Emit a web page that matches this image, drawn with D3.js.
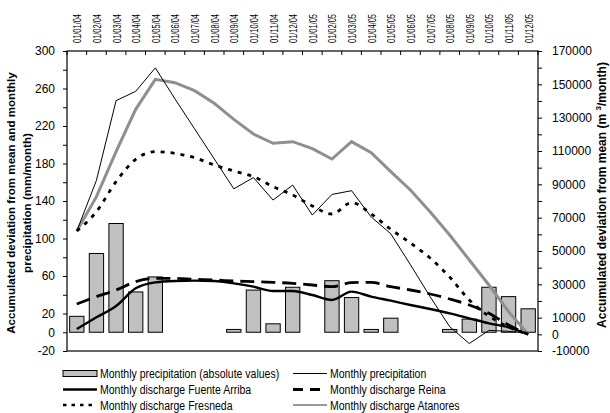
<!DOCTYPE html>
<html>
<head>
<meta charset="utf-8">
<script src="https://cdn.jsdelivr.net/npm/d3@7"></script>
<style>
  body { margin: 0; background: #fff; }
  svg { display: block; font-family: "Liberation Sans", Arial, sans-serif; }
</style>
</head>
<body>
<div id="chart"></div>
<script>
var months = ["01/01/04", "01/02/04", "01/03/04", "01/04/04", "01/05/04", "01/06/04",
    "01/07/04", "01/08/04", "01/09/04", "01/10/04", "01/11/04", "01/12/04",
    "01/01/05", "01/02/05", "01/03/05", "01/04/05", "01/05/05", "01/06/05",
    "01/07/05", "01/08/05", "01/09/05", "01/10/05", "01/11/05", "01/12/05"]

// monthly precipitation, absolute values (mm/month), null = no bar
var precipBars = [17, 84, 116, 43, 59, null, null, null, 3, 45, 9, 48,
    null, 55, 37, 3, 15, null, null, 3, 14, 48, 38, 25]

// accumulated deviation, precipitation (mm/month) - left axis
var precipAcc = [108, 162, 247, 257, 282, 249, 217, 185, 153, 165, 141, 157,
    125, 147, 151, 123, 105, 72, 38, 6, -12, 2, 1, -1]

// accumulated deviation, discharges (m3/month) - right axis
var fuenteArriba = [3200, 10200, 17000, 27600, 31200, 32000, 32200, 32000, 30600, 28600, 26000, 26000,
    23600, 20600, 25600, 22600, 20200, 17600, 15200, 12600, 9600, 6600, 4200, 0]
var reina = [18200, 22600, 26600, 31600, 33600, 33600, 33000, 32600, 32000, 31600, 31200, 30600,
    29600, 28600, 31000, 31200, 28600, 26600, 24200, 21200, 17600, 12600, 5600, 0]
var fresneda = [62000, 73600, 91600, 105000, 109600, 108600, 106000, 101600, 98000, 94600, 88600, 83600,
    77000, 72200, 79000, 72200, 63000, 54800, 45800, 34400, 20600, 11000, 4400, 0]
var atanores = [62000, 82600, 109600, 135000, 153000, 151000, 146200, 138600, 129000, 120200, 114600, 115600,
    111400, 105200, 115600, 109000, 97600, 86600, 73600, 59600, 44600, 29600, 13600, 0]

var leftTicks = d3.range(-20, 301, 20)
var leftLabels = [300, 260, 220, 180, 140, 100, 60, 20, 0, -20]
var rightTicks = d3.range(-10000, 170001, 10000)
var rightLabels = [170000, 150000, 130000, 110000, 90000, 70000, 50000, 30000, 10000, 0, -10000]

var width = 610, height = 413
var pLeft = 67, pRight = 538, pTop = 51, pBottom = 351

var svg = d3.select("#chart").append("svg")
    .attr("width", width)
    .attr("height", height)

var x = d3.scaleBand()
    .domain(months)
    .range([pLeft, pRight])
    .paddingInner(0.27)
    .paddingOuter(0.135)

var yL = d3.scaleLinear().domain([-20, 300]).range([pBottom, pTop])
var yR = d3.scaleLinear().domain([-10000, 170000]).range([pBottom, pTop])

var cx = d => x(d) + x.bandwidth() / 2

// bars
svg.append("g").selectAll("rect")
    .data(months.map((m, i) => ({m: m, v: precipBars[i]})).filter(d => d.v != null))
    .enter().append("rect")
    .attr("x", d => x(d.m))
    .attr("width", x.bandwidth())
    .attr("y", d => yL(d.v))
    .attr("height", d => yL(0) - yL(d.v))
    .attr("fill", "#c0c0c0")
    .attr("stroke", "#000")
    .attr("stroke-width", 1)

// lines
var series = [
    {vals: atanores, y: yR, stroke: "#8f8f8f", w: 3, dash: null, curve: d3.curveLinear},
    {vals: fresneda, y: yR, stroke: "#000", w: 2.8, dash: "4,6", curve: d3.curveMonotoneX},
    {vals: reina, y: yR, stroke: "#000", w: 2.8, dash: "14,7", curve: d3.curveMonotoneX},
    {vals: fuenteArriba, y: yR, stroke: "#000", w: 2.4, dash: null, curve: d3.curveMonotoneX},
    {vals: precipAcc, y: yL, stroke: "#000", w: 1, dash: null, curve: d3.curveLinear}
]

series.forEach(s => {
    var line = d3.line()
        .x((d, i) => cx(months[i]))
        .y(d => s.y(d))
        .curve(s.curve)
    svg.append("path")
        .datum(s.vals)
        .attr("d", line)
        .attr("fill", "none")
        .attr("stroke", s.stroke)
        .attr("stroke-width", s.w)
        .attr("stroke-dasharray", s.dash)
})

// frame
svg.append("rect")
    .attr("x", pLeft).attr("y", pTop)
    .attr("width", pRight - pLeft).attr("height", pBottom - pTop)
    .attr("fill", "none").attr("stroke", "#000").attr("stroke-width", 1.2)

// left axis
var axL = svg.append("g")
    .attr("transform", "translate(" + pLeft + ",0)")
    .call(d3.axisLeft(yL).tickValues(leftTicks).tickSize(4).tickSizeOuter(0).tickPadding(8)
        .tickFormat(d => leftLabels.indexOf(d) >= 0 ? d : ""))
axL.select(".domain").remove()
axL.selectAll("text").attr("font-size", 12).attr("font-family", "Liberation Sans, Arial, sans-serif")

// right axis
var axR = svg.append("g")
    .attr("transform", "translate(" + pRight + ",0)")
    .call(d3.axisRight(yR).tickValues(rightTicks).tickSize(4).tickSizeOuter(0).tickPadding(10)
        .tickFormat(d => rightLabels.indexOf(d) >= 0 ? d : ""))
axR.select(".domain").remove()
axR.selectAll("text").attr("font-size", 12).attr("font-family", "Liberation Sans, Arial, sans-serif")

// top month axis
svg.append("g").selectAll("line")
    .data(d3.range(months.length + 1))
    .enter().append("line")
    .attr("x1", i => pLeft + i * x.step())
    .attr("x2", i => pLeft + i * x.step())
    .attr("y1", pTop).attr("y2", pTop + 4)
    .attr("stroke", "#000")

svg.append("g").selectAll("text")
    .data(months)
    .enter().append("text")
    .attr("transform", d => "translate(" + (cx(d) + 4.5) + "," + 43 + ") rotate(-90)")
    .attr("font-size", 10.8)
    .attr("textLength", 29)
    .attr("lengthAdjust", "spacingAndGlyphs")
    .text(d => d)

// axis titles
var tl = svg.append("text")
    .attr("transform", "translate(15,203) rotate(-90)")
    .attr("text-anchor", "middle")
    .attr("font-size", 11.6)
    .attr("font-weight", "bold")
tl.append("tspan").attr("x", 0).attr("dy", 0).text("Accumulated deviation from mean and monthly")
tl.append("tspan").attr("x", 0).attr("dy", 16).text("precipitation (mm/month)")

var tr = svg.append("text")
    .attr("transform", "translate(606,195) rotate(-90)")
    .attr("text-anchor", "middle")
    .attr("font-size", 12)
    .attr("font-weight", "bold")
tr.append("tspan").text("Accumulated deviation from mean (m ")
tr.append("tspan").attr("font-size", 8).attr("dy", -5).text("3")
tr.append("tspan").attr("dy", 5).text("/month)")

// legend
var legend = [
    {label: "Monthly precipitation (absolute values)", type: "bar", col: 0, row: 0},
    {label: "Monthly precipitation", type: "line", stroke: "#000", w: 1, col: 1, row: 0},
    {label: "Monthly discharge Fuente Arriba", type: "line", stroke: "#000", w: 2.4, col: 0, row: 1},
    {label: "Monthly discharge Reina", type: "line", stroke: "#000", w: 2.8, dash: "10,7", col: 1, row: 1},
    {label: "Monthly discharge Fresneda", type: "line", stroke: "#000", w: 2.4, dash: "3.5,5", col: 0, row: 2},
    {label: "Monthly discharge Atanores", type: "line", stroke: "#999", w: 2, col: 1, row: 2}
]
var colX = [63, 293], rowY = [373.5, 389.5, 405]

legend.forEach(l => {
    var g = svg.append("g").attr("transform", "translate(" + colX[l.col] + "," + rowY[l.row] + ")")
    if (l.type == "bar") {
        g.append("rect").attr("x", 0).attr("y", -3).attr("width", 34).attr("height", 6)
            .attr("fill", "#c0c0c0").attr("stroke", "#000")
    } else {
        g.append("line").attr("x1", 0).attr("x2", 34).attr("y1", 0).attr("y2", 0)
            .attr("stroke", l.stroke).attr("stroke-width", l.w)
            .attr("stroke-dasharray", l.dash || null)
    }
    var t = g.append("text").attr("x", 37).attr("y", 4.5)
        .attr("font-size", 12.5).text(l.label)
    var len = t.node().getComputedTextLength()
    t.attr("textLength", len * 0.84).attr("lengthAdjust", "spacingAndGlyphs")
})
</script>
</body>
</html>
